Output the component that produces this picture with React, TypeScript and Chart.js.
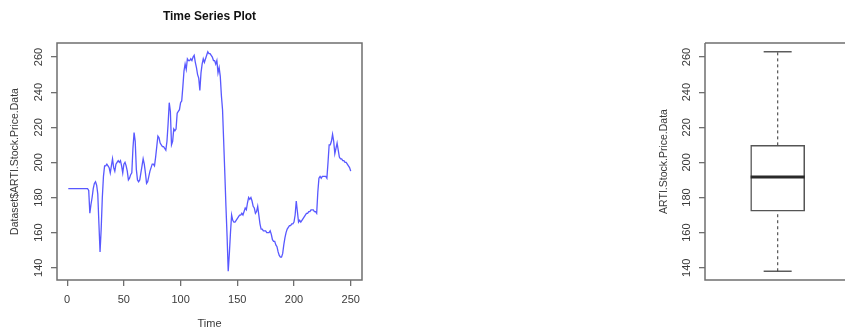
import React, { useEffect, useRef } from "react";
import { Chart, registerables } from "chart.js";

Chart.register(...registerables);

// ---------------- data ----------------
const prices: number[] = [
  185, 185, 185, 185, 185, 185, 185, 185, 185, 185,
  185, 185, 185, 185, 185, 185, 185, 185, 184, 171,
  176, 180, 185, 188, 189, 187, 182, 165, 149, 162,
  180, 192, 198, 198, 199, 198, 197, 194, 198, 202,
  197, 195, 199, 200, 201, 200, 201, 198, 194, 199,
  200, 198, 195, 190, 191, 193, 194, 208, 217, 212,
  196, 190, 189, 190, 194, 198, 202, 199, 194, 188,
  189, 192, 195, 197, 199, 199, 198, 203, 209, 215,
  214, 211, 210, 209, 209, 208, 207, 212, 222, 234,
  229, 210, 212, 219, 218, 219, 228, 229, 230, 234,
  235, 243, 252, 256, 253, 259, 258, 258, 259, 258,
  260, 261, 257, 254, 250, 248, 241, 251, 256, 259,
  257, 259, 261, 263, 262, 262, 261, 260, 258, 258,
  256, 258, 251, 254, 249, 238, 230, 212, 194, 175,
  158, 138, 148, 160, 170, 167, 166, 166, 167, 168,
  169, 170, 170, 171, 170, 172, 174, 173, 177, 180,
  179, 180, 178, 175, 174, 171, 172, 175, 170, 165,
  162, 162, 161, 161, 161, 160, 160, 160, 161, 159,
  156, 155, 155, 153, 152, 149, 147, 146, 146, 148,
  153, 157, 160, 162, 163, 164, 164, 165, 165, 166,
  170, 178, 172, 166, 167, 166, 167, 168, 169, 170,
  171, 171, 172, 172, 173, 173, 173, 172, 172, 171,
  183, 191, 192, 191, 192, 192, 192, 192, 191, 200,
  210, 210, 212, 216, 212, 205, 208, 211, 207, 203,
  202, 202, 201, 201, 200, 200, 199, 198, 197, 195,
];
const timeIndex: number[] = prices.map((_, i) => i + 1);

const xTicks: number[] = [0, 50, 100, 150, 200, 250];
const yTicks: number[] = [140, 160, 180, 200, 220, 240, 260];
const xRange: number[] = [-8.96, 259.96];
const yRange: number[] = [133, 268];

// box plot five numbers: min, q1, median, q3, max
const boxMin = [138];
const boxQ1 = [172.2];
const boxMedian = [191.6];
const boxQ3 = [209.7];
const boxMax = [263];
const boxPosition = [1];
const boxXRange: number[] = [0.5, 1.446];

const titleText = "Time Series Plot";
const xTitle = "Time";
const yTitleLeft = "Dataset$ARTI.Stock.Price.Data";
const yTitleRight = "ARTI.Stock.Price.Data";

const FONT = "'Liberation Sans', Arial, Helvetica, sans-serif";
const FRAME = "#6f6f6f";
const TEXT = "#3a3a3a";

const framePlugin = (sides: { right: boolean }) => ({
  id: "frame",
  afterDraw(chart: any) {
    const { ctx, chartArea: a } = chart;
    ctx.save();
    ctx.strokeStyle = FRAME;
    ctx.lineWidth = 1.5;
    ctx.beginPath();
    ctx.moveTo(a.left, a.top);
    ctx.lineTo(a.left, a.bottom);
    ctx.lineTo(a.right + (sides.right ? 0 : 2), a.bottom);
    if (sides.right) {
      ctx.lineTo(a.right, a.top);
      ctx.closePath();
    } else {
      ctx.moveTo(a.left, a.top);
      ctx.lineTo(a.right + 2, a.top);
    }
    ctx.stroke();
    ctx.restore();
  },
});

const titlePlugin = {
  id: "rtitle",
  afterDraw(chart: any) {
    const { ctx, chartArea: a } = chart;
    ctx.save();
    ctx.fillStyle = "#111";
    ctx.font = `bold 12px ${FONT}`;
    ctx.textAlign = "center";
    ctx.textBaseline = "middle";
    ctx.fillText(titleText, (a.left + a.right) / 2, 17);
    ctx.restore();
  },
};

function yAxis(title: string, titlePad: number, width: number) {
  return {
    type: "linear",
    min: yRange[0],
    max: yRange[1],
    afterBuildTicks: (s: any) => {
      s.ticks = yTicks.map((v) => ({ value: v }));
    },
    afterFit: (s: any) => {
      s.width = width;
    },
    grid: {
      drawOnChartArea: false,
      drawTicks: true,
      tickLength: 6,
      color: FRAME,
      lineWidth: 1.3,
    },
    border: { display: false },
    ticks: {
      minRotation: 90,
      maxRotation: 90,
      crossAlign: "center",
      padding: 3,
      color: TEXT,
      font: { family: FONT, size: 11 },
    },
    title: {
      display: true,
      text: title,
      color: TEXT,
      font: { family: FONT, size: 10.5 },
      padding: { top: titlePad, bottom: 0 },
    },
  };
}

function TimeSeries() {
  const ref = useRef<HTMLCanvasElement>(null);
  useEffect(() => {
    const chart = new Chart(ref.current!, {
      type: "line",
      data: {
        labels: timeIndex,
        datasets: [
          {
            data: timeIndex.map((t, i) => ({ x: t, y: prices[i] })),
            borderColor: "rgba(70,70,255,0.9)",
            borderWidth: 1.3,
            pointRadius: 0,
            tension: 0,
            fill: false,
          },
        ],
      },
      options: {
        responsive: false,
        animation: false,
        layout: { autoPadding: false, padding: { top: 43, right: 18, left: 0, bottom: 0 } },
        plugins: { legend: { display: false }, tooltip: { enabled: false } },
        scales: {
          x: {
            type: "linear",
            min: xRange[0],
            max: xRange[1],
            afterBuildTicks: (s: any) => {
              s.ticks = xTicks.map((v) => ({ value: v }));
            },
            afterFit: (s: any) => {
              s.height = 53;
            },
            grid: {
              drawOnChartArea: false,
              drawTicks: true,
              tickLength: 6,
              color: FRAME,
              lineWidth: 1.3,
            },
            border: { display: false },
            ticks: {
              padding: 7,
              maxRotation: 0,
              color: TEXT,
              font: { family: FONT, size: 11 },
            },
            title: {
              display: true,
              text: xTitle,
              color: TEXT,
              font: { family: FONT, size: 11 },
              padding: { top: 0, bottom: 2 },
            },
          },
          y: yAxis(yTitleLeft, 8.5, 57) as any,
        },
      } as any,
      plugins: [framePlugin({ right: true }), titlePlugin],
    });
    return () => chart.destroy();
  }, []);
  return (
    <canvas
      ref={ref}
      width={380}
      height={333}
      style={{ position: "absolute", left: 0, top: 0, width: 380, height: 333 }}
    />
  );
}

function BoxPlot() {
  const ref = useRef<HTMLCanvasElement>(null);
  useEffect(() => {
    const x = boxPosition[0];
    const chart = new Chart(ref.current!, {
      type: "bar",
      data: {
        datasets: [
          {
            type: "scatter",
            order: 0,
            data: [{ x, y: boxMedian[0] }],
            pointStyle: "line",
            pointRadius: 27,
            borderWidth: 3,
            borderColor: "#2a2a2a",
          },
          {
            type: "scatter",
            order: 1,
            data: [
              { x, y: boxMin[0] },
              { x, y: boxMax[0] },
            ],
            pointStyle: "line",
            pointRadius: 14,
            borderWidth: 1.3,
            borderColor: "#444",
          },
          {
            type: "line",
            order: 2,
            data: [
              { x, y: boxQ3[0] },
              { x, y: boxMax[0] },
            ],
            borderColor: "#555",
            borderWidth: 1.2,
            borderDash: [3, 3],
            pointRadius: 0,
          },
          {
            type: "line",
            order: 2,
            data: [
              { x, y: boxMin[0] },
              { x, y: boxQ1[0] },
            ],
            borderColor: "#555",
            borderWidth: 1.2,
            borderDash: [3, 3],
            pointRadius: 0,
          },
          {
            type: "bar",
            order: 3,
            data: [{ x, y: [boxQ1[0], boxQ3[0]] }],
            backgroundColor: "#ffffff",
            borderColor: "#555",
            borderWidth: 1.5,
            borderSkipped: false,
            barThickness: 54,
          },
        ],
      } as any,
      options: {
        responsive: false,
        animation: false,
        layout: { autoPadding: false, padding: { top: 43, right: 0, left: 50, bottom: 53 } },
        plugins: { legend: { display: false }, tooltip: { enabled: false } },
        scales: {
          x: {
            type: "linear",
            display: false,
            min: boxXRange[0],
            max: boxXRange[1],
          },
          y: yAxis(yTitleRight, 7.7, 55) as any,
        },
      } as any,
      plugins: [framePlugin({ right: false })],
    });
    return () => chart.destroy();
  }, []);
  return (
    <canvas
      ref={ref}
      width={245}
      height={333}
      style={{ position: "absolute", left: 600, top: 0, width: 245, height: 333 }}
    />
  );
}

export default function App() {
  return (
    <div
      style={{
        position: "absolute",
        left: 0,
        top: 0,
        width: 845,
        height: 333,
        background: "#fff",
        overflow: "hidden",
      }}
    >
      <TimeSeries />
      <BoxPlot />
    </div>
  );
}
